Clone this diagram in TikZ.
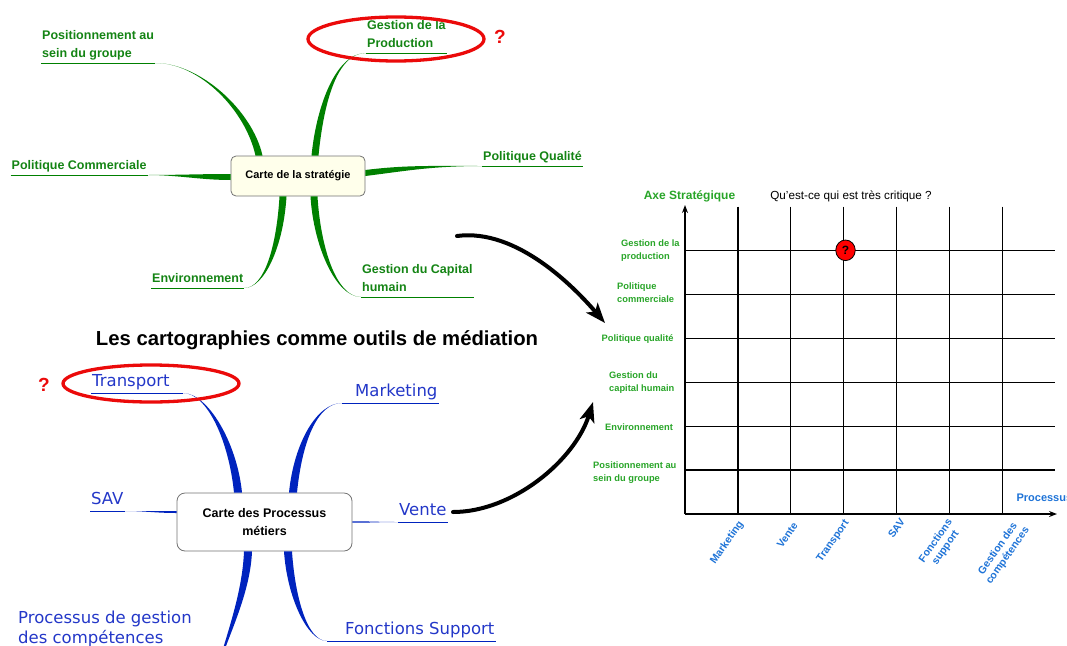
\documentclass[tikz,border=0pt]{standalone}
\usepackage{fontspec}
\setmainfont{Liberation Sans}
\newfontfamily\verdana{DejaVu Sans}
\usetikzlibrary{arrows.meta,calc,shapes.geometric}

\definecolor{mapgreen}{RGB}{0,128,0}
\definecolor{txtgreen}{RGB}{20,132,20}
\definecolor{mapblue}{RGB}{0,35,190}
\definecolor{txtblue}{RGB}{35,55,200}
\definecolor{axgreen}{RGB}{40,165,40}
\definecolor{axblue}{RGB}{30,115,215}
\definecolor{markred}{RGB}{235,10,10}
\definecolor{cream}{RGB}{255,255,235}

% tapered branch: colour, from, control1, control2, to, half width
\newcommand{\twig}[6]{\fill[#1] ($(#2)+(#6)$) .. controls +(#3) and +(#4) .. (#5) .. controls +(#4) and +(#3) .. ($(#2)-(#6)$) -- cycle;}

\tikzset{
  stratbox/.style={draw=black!55,line width=0.8pt,rounded corners=5pt,fill=cream,minimum width=134,minimum height=40,font=\bfseries\fontsize{11}{13}\selectfont},
  procbox/.style={draw=black!55,line width=0.8pt,rounded corners=8pt,fill=white,minimum width=175,minimum height=58,align=center,font=\bfseries\fontsize{12.5}{18}\selectfont},
  stratlbl/.style={anchor=south west,inner xsep=1pt,inner ysep=2pt,text depth=3pt,align=left,text=txtgreen,font=\bfseries\fontsize{12.5}{18.5}\selectfont},
  proclbl/.style={anchor=south west,inner xsep=1pt,inner ysep=2pt,text depth=4pt,align=left,text=txtblue,font=\verdana\fontsize{16.5}{20}\selectfont},
  mapline/.style={draw=mapgreen,line width=0.8pt},
  procline/.style={draw=mapblue,line width=0.8pt},
  ring/.style={ellipse,draw=markred,line width=3.3pt,inner sep=0pt},
  qmark/.style={text=markred,font=\bfseries\fontsize{19}{19}\selectfont},
  bigarrow/.style={line width=4pt,line cap=round,-{Stealth[length=20pt,width=15pt,inset=5pt]}},
  gridline/.style={line width=1.1pt},
  axis/.style={line width=1.6pt,-{Stealth[length=8pt,width=6pt]}},
  rowlbl/.style={anchor=west,inner sep=0pt,align=left,text=axgreen,font=\bfseries\fontsize{9.3}{13}\selectfont},
  collbl/.style={anchor=north east,rotate=55,inner sep=1pt,align=center,text=axblue,font=\bfseries\fontsize{10.5}{12}\selectfont},
  redmark/.style={ellipse,draw,fill=red,line width=0.8pt,minimum width=19.5,minimum height=20.6,inner sep=0pt,font=\bfseries\fontsize{12}{12}\selectfont}
}

\begin{document}
\begin{tikzpicture}[x=1pt,y=-1pt]
\useasboundingbox (0,0) rectangle (1067,645);

% strategy map
\node[stratbox] (strat) at (298,176) {Carte de la stratégie};
\node[stratlbl] (pos) at (41,63) {Positionnement au\\sein du groupe};
\node[stratlbl] (prod) at (366,53) {Gestion de la\\Production};
\node[stratlbl] (qual) at (482,166) {Politique Qualité};
\node[stratlbl] (com) at (10.5,175) {Politique Commerciale};
\node[stratlbl] (env) at (151,288) {Environnement};
\node[stratlbl] (cap) at (361,297) {Gestion du Capital\\humain};

\coordinate (s-pos) at ([xshift=-39pt]strat.north);
\coordinate (s-prod) at ([xshift=17pt]strat.north);
\coordinate (s-env) at ([xshift=-15pt]strat.south);
\coordinate (s-cap) at ([xshift=16pt]strat.south);
\coordinate (s-qual) at ([yshift=3pt]strat.east);
\coordinate (s-com) at ([yshift=-1pt]strat.west);

\twig{mapgreen}{s-pos}{-10,-45}{45,0}{pos.south east}{3.5,0}
\twig{mapgreen}{s-prod}{5,-50}{-30,0}{prod.south west}{3.5,0}
\twig{mapgreen}{s-qual}{40,-5}{-50,0}{qual.south west}{0,3}
\twig{mapgreen}{s-com}{-30,0}{30,0}{com.south east}{0,3}
\twig{mapgreen}{s-env}{-3,50}{20,0}{env.south east}{3.5,0}
\twig{mapgreen}{s-cap}{3,50}{-25,0}{cap.south west}{3.5,0}
\foreach \n in {pos,prod,qual,com,env,cap}
  \draw[mapline] (\n.south west) -- (\n.south east);

\node[ring,minimum width=176,minimum height=44] (ring-prod) at (396,39) {};
\node[qmark] (q-prod) at (500,37) {?};

\node[font=\bfseries\fontsize{20.3}{22}\selectfont] (title) at (317,340) {Les cartographies comme outils de médiation};

% process map
\node[procbox] (proc) at (264.5,522) {Carte des Processus\\métiers};
\node[proclbl] (trans) at (91,393) {Transport};
\node[proclbl] (mark) at (354,403) {Marketing};
\node[proclbl] (sav) at (90,511) {SAV};
\node[proclbl] (vente) at (398,522) {Vente};
\node[proclbl] (fonc) at (344,641) {Fonctions Support};
\node[proclbl,anchor=north west] (gest) at (17,609) {Processus de gestion\\des compétences};

\coordinate (s-trans) at ([xshift=-26.5pt]proc.north);
\coordinate (s-mark) at ([xshift=28.5pt]proc.north);
\coordinate (s-gest) at ([xshift=-16.5pt]proc.south);
\coordinate (s-fonc) at ([xshift=23.5pt]proc.south);
\coordinate (s-sav) at ([yshift=10pt]proc.west);
\coordinate (trans-e) at ([xshift=12pt]trans.south east);
\coordinate (mark-e) at ([xshift=-12pt]mark.south west);
\coordinate (fonc-e) at ([xshift=-17pt]fonc.south west);
\coordinate (gest-e) at (212,690);

\twig{mapblue}{s-trans}{-5,-50}{25,0}{trans-e}{4,0}
\twig{mapblue}{s-mark}{5,-50}{-25,0}{mark-e}{4,0}
\twig{mapblue}{s-gest}{-2,50}{8,-40}{gest-e}{4,0}
\twig{mapblue}{s-fonc}{3,45}{-20,0}{fonc-e}{4,0}
\twig{mapblue}{s-sav}{-20,0}{20,0}{sav.south east}{0,1}
\twig{mapblue}{proc.east}{20,0}{-20,0}{vente.south west}{0,0.7}
\draw[procline] (trans.south west) -- (trans-e);
\draw[procline] (mark-e) -- (mark.south east);
\draw[procline] (sav.south west) -- (sav.south east);
\draw[procline] (vente.south west) -- (vente.south east);
\draw[procline] (fonc-e) -- (fonc.south east);

\node[ring,minimum width=176,minimum height=37] (ring-trans) at (151,383.5) {};
\node[qmark] (q-trans) at (44,385) {?};

% arrows to the matrix
\coordinate (a1-s) at (457,236);
\coordinate (a1-e) at (605,323);
\coordinate (a2-s) at (453,512);
\coordinate (a2-e) at (593,402);
\draw[bigarrow] (a1-s) .. controls +(60,-8) and +(-30,-35) .. (a1-e);
\draw[bigarrow] (a2-s) .. controls +(60,0) and +(-18,58) .. (a2-e);

% matrix
\coordinate (origin) at (685,514);
\coordinate (ytip) at (685,205);
\coordinate (xtip) at (1057,514);
\foreach \x in {738,790.7,843.3,896.7,949.3,1002.3}
  \draw[gridline] (\x,206.7) -- (\x,514);
\foreach \y in {250.3,294.3,338.7,382.3,426.7,470}
  \draw[gridline] (685,\y) -- (1055,\y);
\draw[axis] (origin) -- (ytip);
\draw[axis] (origin) -- (xtip);

\node[text=axgreen,font=\bfseries\fontsize{12}{12}\selectfont] (ytitle) at (689.5,196) {Axe Stratégique};
\node[font=\fontsize{11.7}{12}\selectfont] (quest) at (851,196) {Qu’est-ce qui est très critique ?};
\node[anchor=west,text=axblue,font=\bfseries\fontsize{11}{11}\selectfont] (xtitle) at (1013,498) {Processus};

\node[rowlbl] (r-prod) at (621,250.8) {Gestion de la\\production};
\node[rowlbl] (r-com) at (617,292.8) {Politique\\commerciale};
\node[rowlbl] (r-qual) at (601.5,339.3) {Politique qualité};
\node[rowlbl] (r-cap) at (609,382.5) {Gestion du\\capital humain};
\node[rowlbl] (r-env) at (605,427.3) {Environnement};
\node[rowlbl] (r-pos) at (593,473) {Positionnement au\\sein du groupe};

\node[collbl] (c-mark) at (737,518) {Marketing};
\node[collbl] (c-vente) at (792,520) {Vente};
\node[collbl] (c-trans) at (843,517) {Transport};
\node[collbl] (c-sav) at (899,516) {SAV};
\node[collbl] (c-fonc) at (946,516) {Fonctions\\support};
\node[collbl] (c-gest) at (1013,517) {Gestion des\\compétences};

\node[redmark] (crit) at (845.5,250.3) {?};
\end{tikzpicture}
\end{document}
